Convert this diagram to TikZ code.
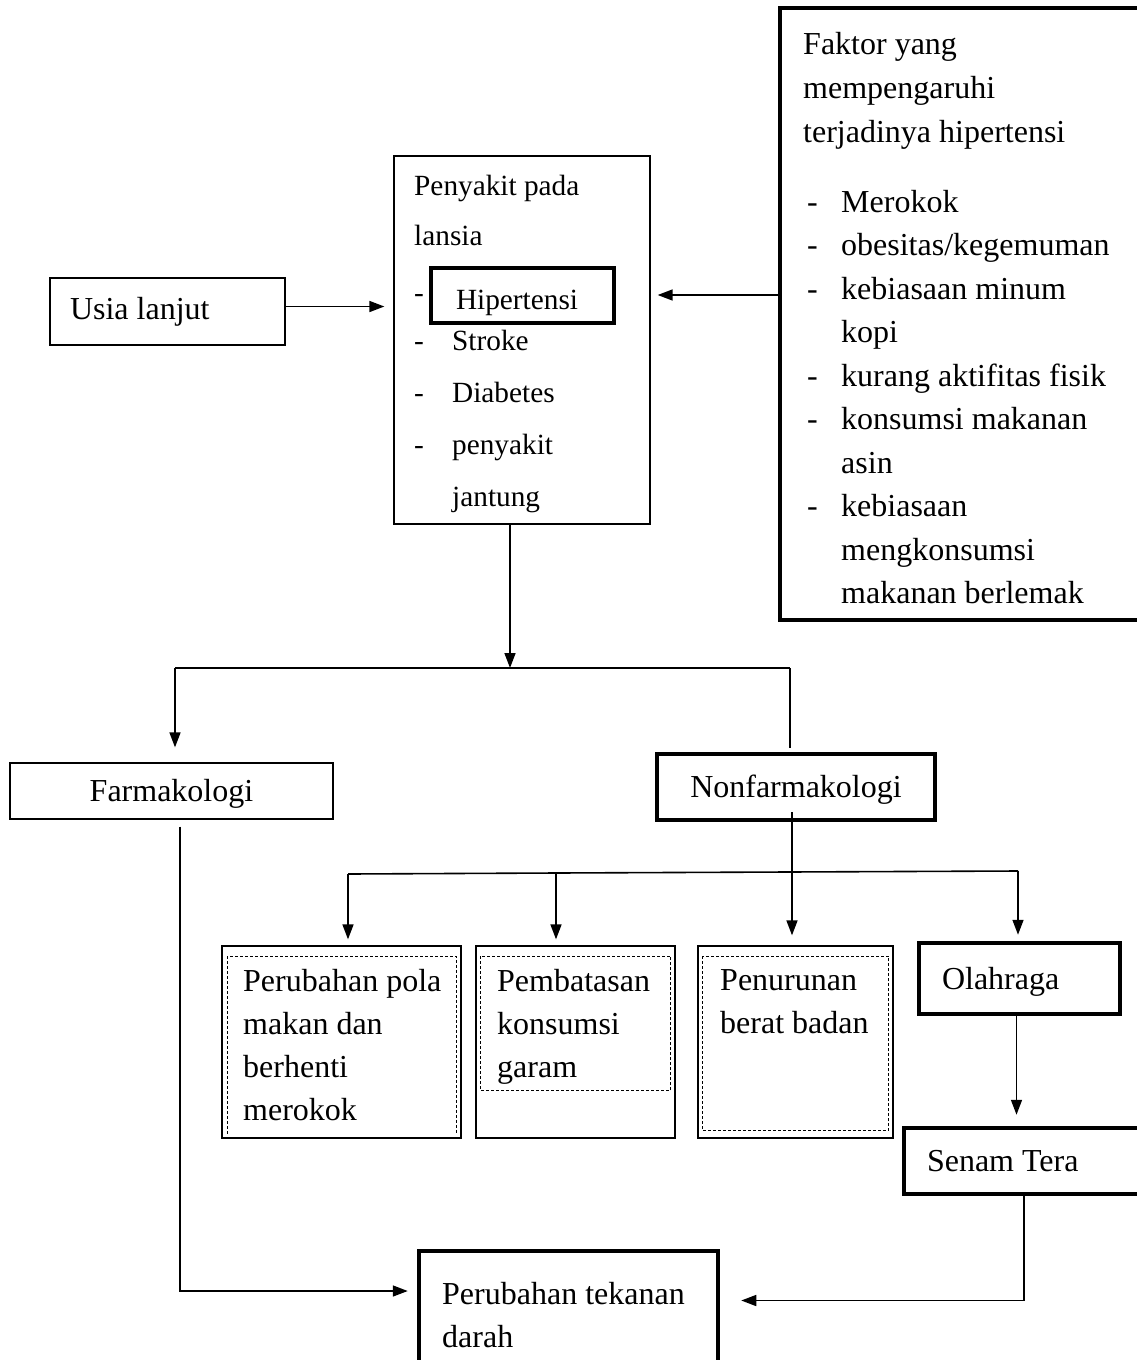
\documentclass[tikz,border=0pt]{standalone}
\usepackage{fontspec}
\setmainfont{Liberation Serif}
\usetikzlibrary{arrows.meta}
\newcommand{\litem}[2][34pt]{\makebox[#1][l]{-}#2}
\newcommand{\lcont}[2][34pt]{\hspace*{#1}#2}
\tikzset{thinbox/.style={
		draw,
		line width=1.3pt,
		inner sep=0pt},
	thickbox/.style={
		draw,
		line width=4.5pt,
		inner sep=0pt},
	onebox/.style={
		text height=25pt,
		text depth=4pt,
		inner ysep=0pt,
		align=flush left},
	txt/.style={
		anchor=north west,
		inner sep=0pt,
		align=left,
		yshift=20pt,
		execute at begin node={\rule{0pt}{25pt}}},
	dashbox/.style={
		draw,
		line width=0.8pt,
		dash pattern=on 3pt off 2pt},
	conn/.style={
		line width=1.6pt}}

\begin{document}
\begin{tikzpicture}[x=1pt,y=-1pt,>={Triangle[length=15pt,width=11pt]},font=\fontsize{32}{43}\selectfont]
				\useasboundingbox (0,0) rectangle (1137,1360);
				\fill[white] (0,0) rectangle (1137,1360);
				\clip (0,0) rectangle (1137,1360);
				
				% top row
				\node[thinbox, onebox, text height=22pt, text depth=7pt, inner xsep=20pt, text width=195pt, minimum height=67pt] (usia) at (167.5,311.5) {Usia lanjut};
				\node[thinbox, minimum width=256pt, minimum height=368pt] (pen) at (522,340) {};
				\node[txt, font=\fontsize{29.3}{50}\selectfont] (penT) at (414,195) {Penyakit pada\\lansia};
				\node[txt, font=\fontsize{29.3}{50}\selectfont] (hipD) at (414,297) {-};
				\node[thickbox, align=flush left, text height=30pt, text depth=3pt, inner xsep=25pt, text width=133pt, minimum height=55pt, font=\fontsize{29.3}{50}\selectfont] (hip) at (522.5,295.5) {Hipertensi};
				\node[txt, font=\fontsize{29.3}{52}\selectfont] (penL) at (414,350) {\litem[38pt]{Stroke}\\\litem[38pt]{Diabetes}\\\litem[38pt]{penyakit}\\\lcont[38pt]{jantung}};
				\node[thickbox, minimum width=380pt, minimum height=612pt] (fak) at (970,314) {};
				\node[txt, font=\fontsize{32}{44}\selectfont] (fakT) at (803,52) {Faktor yang\\mempengaruhi\\terjadinya hipertensi};
				\node[txt, font=\fontsize{32}{43.5}\selectfont] (fakL) at (807,210) {\litem{Merokok}\\\litem{obesitas/kegemuman}\\\litem{kebiasaan minum}\\\lcont{kopi}\\\litem{kurang aktifitas fisik}\\\litem{konsumsi makanan}\\\lcont{asin}\\\litem{kebiasaan}\\\lcont{mengkonsumsi}\\\lcont{makanan berlemak}};
				
				% middle row
				\node[thinbox, onebox, minimum width=323pt, minimum height=56pt] (farm) at (171.5,791) {Farmakologi};
				\node[thickbox, onebox, minimum width=278pt, minimum height=66pt] (nonf) at (796,787) {Nonfarmakologi};
				
				% bottom boxes
				\node[thinbox, minimum width=239pt, minimum height=192pt] (box1) at (341.5,1042) {};
				\node[thinbox, minimum width=199pt, minimum height=192pt] (box2) at (575.5,1042) {};
				\node[thinbox, minimum width=195pt, minimum height=192pt] (box3) at (795.5,1042) {};
				\draw[dashbox] ([shift={(6,-5)}]box1.south west) |- ([shift={(-5,11)}]box1.north east) -- ([shift={(-5,-5)}]box1.south east);
				\draw[dashbox] ([shift={(5,11)}]box2.north west) rectangle ([shift={(-5,-48)}]box2.south east);
				\draw[dashbox] ([shift={(5,11)}]box3.north west) rectangle ([shift={(-5,-8)}]box3.south east);
				\node[txt] (box1T) at (243,989) {Perubahan pola\\makan dan\\berhenti\\merokok};
				\node[txt] (box2T) at (497,989) {Pembatasan\\konsumsi\\garam};
				\node[txt] (box3T) at (720,989) {Penurunan\\berat badan};
				\node[thickbox, onebox, inner xsep=23pt, text width=155pt, minimum height=71pt] (olah) at (1019.5,978.5) {Olahraga};
				\node[thickbox, onebox, inner xsep=23pt, text width=210pt, minimum height=66pt] (senam) at (1032,1161) {Senam Tera};
				\node[thickbox, minimum width=299pt, minimum height=139pt] (tek) at (568.5,1320.5) {};
				\node[txt] (tekT) at (442,1302) {Perubahan tekanan\\darah};
				
				% split points
				\coordinate (top) at (510,668);
				\coordinate (topL) at (175,668);
				\coordinate (topR) at (790,668);
				\coordinate (midL) at (348,874);
				\coordinate (midB) at (556,873);
				\coordinate (midR) at (1018,871);
				
				\draw[->,conn,shorten >=9pt] ([yshift=5pt]usia.east) -- ([yshift=5pt]usia.east -| pen.west);
				\draw[->,conn,shorten >=7pt] ([yshift=19pt]fak.west) -- ([yshift=19pt]fak.west -| pen.east);
				\draw[->,conn] (pen.south -| top) -- (top);
				\draw[conn] (topL) -- (topR);
				\draw[->,conn,shorten >=15pt] (topL) -- (topL |- farm.north);
				\draw[conn,shorten >=4pt] (topR) -- (topR |- nonf.north);
				\draw[->,conn,shorten >=9pt] ([xshift=8.5pt,yshift=-7pt]farm.south) |- ([yshift=29.5pt]tek.west);
				\draw[->,conn,shorten >=10pt] ([xshift=-4pt,yshift=10pt]nonf.south) -- ([xshift=-4pt]nonf.south |- box3.north);
				\draw[conn] (midL) -- (midB) -- (midR);
				\draw[->,conn,shorten >=6pt] (midL) -- (midL |- box1.north);
				\draw[->,conn,shorten >=6pt] (midB) -- (midB |- box2.north);
				\draw[->,conn,shorten >=6pt] (midR) -- (midR |- olah.north);
				\draw[->,conn,shorten >=11pt] ([xshift=-3pt]olah.south) -- ([xshift=-3pt]olah.south |- senam.north);
				\draw[->,conn,shorten >=21pt] ([xshift=-8pt]senam.south) |- ([yshift=20pt]tek.east);
\end{tikzpicture}
\end{document}
